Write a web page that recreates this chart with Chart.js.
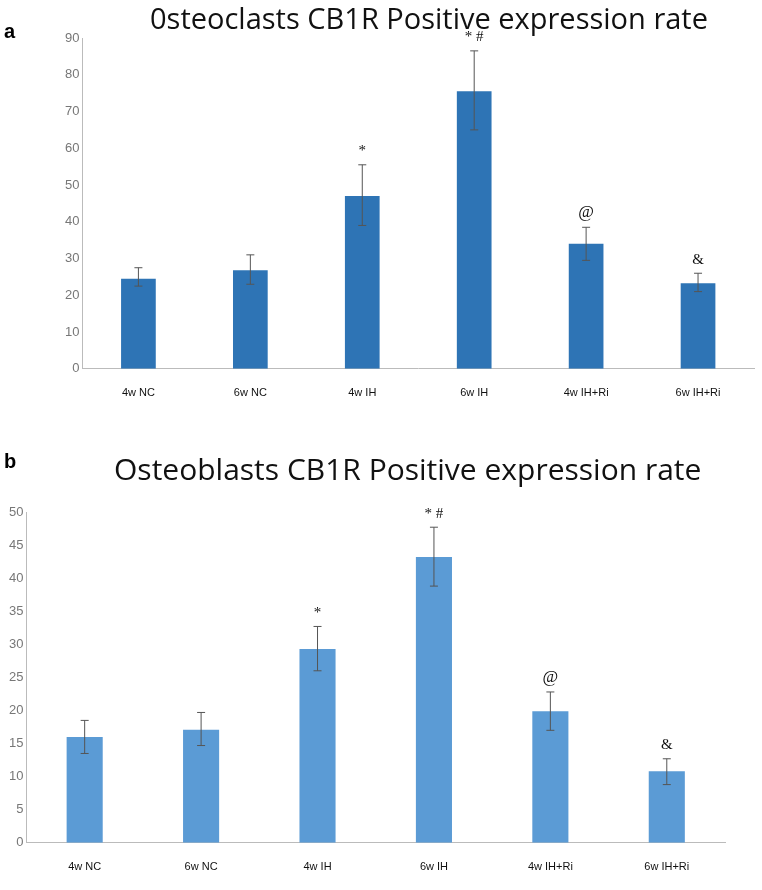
<!DOCTYPE html>
<html><head><meta charset="utf-8">
<script src="https://cdn.jsdelivr.net/npm/chart.js@4"></script>
<style>
body{margin:0;background:#fff;width:762px;height:890px;position:relative;font-family:"Open Sans",Calibri,sans-serif;overflow:hidden}
.t{position:absolute;font-size:29px;color:#111;white-space:nowrap}
.l{position:absolute;font-family:"Liberation Sans",Arial,sans-serif;font-weight:bold;font-size:20px}
.c{position:absolute;left:0;width:762px}
</style></head><body>
<div class="c" style="top:0;height:410px"><canvas id="a"></canvas></div>
<div class="c" style="top:440px;height:450px"><canvas id="b"></canvas></div>
<div class="l" style="left:4px;top:20px">a</div>
<div class="t" style="left:150px;top:-2px">0steoclasts CB1R Positive expression rate</div>
<div class="l" style="left:4px;top:450px">b</div>
<div class="t" style="left:114px;top:448px;font-size:30px">Osteoblasts CB1R Positive expression rate</div>
<script>
const categories=["4w NC","6w NC","4w IH","6w IH","4w IH+Ri","6w IH+Ri"];
const marks=["","","*","* #","@","&"];
const valuesA=[24.5,26.8,47,75.5,34,23.3];
const errLowA=[22.5,23,39,65,29.5,21];
const errHighA=[27.5,31,55.5,86.5,38.5,26];
const valuesB=[16,17.1,29.3,43.2,19.9,10.8];
const errLowB=[13.5,14.7,26,38.8,17,8.8];
const errHighB=[18.5,19.7,32.7,47.7,22.8,12.7];

function errPlugin(lo,hi){return{id:'err',afterDatasetsDraw(ch){
 const c=ch.ctx,x=ch.scales.x,y=ch.scales.y;
 c.save();c.strokeStyle='#555';c.lineWidth=1;
 categories.forEach((k,i)=>{const px=x.getPixelForValue(i),a=y.getPixelForValue(lo[i]),b=y.getPixelForValue(hi[i]);
  c.beginPath();c.moveTo(px,a);c.lineTo(px,b);c.moveTo(px-4,a);c.lineTo(px+4,a);c.moveTo(px-4,b);c.lineTo(px+4,b);c.stroke();
  if(marks[i]){c.fillStyle='#111';c.font=(marks[i]=='@'?'17px':'15px')+' "Liberation Serif",serif';c.textAlign='center';c.textBaseline='bottom';c.fillText(marks[i],px,b-6);}
 });c.restore();}};}

function make(id,vals,lo,hi,color,max,step,pad){
 new Chart(document.getElementById(id),{type:'bar',
 data:{labels:categories,datasets:[{data:vals,backgroundColor:color,barPercentage:0.31,categoryPercentage:1}]},
 options:{responsive:true,maintainAspectRatio:false,animation:false,layout:{padding:pad},
  plugins:{legend:{display:false},tooltip:{enabled:false}},
  scales:{x:{grid:{display:false},border:{color:'#bbb'},ticks:{color:'#111',font:{size:11,family:'"Liberation Sans",Arial'},padding:10}},
   y:{min:0,max:max,ticks:{stepSize:step,color:'#777',font:{size:13,family:'"Liberation Sans",Arial'}},grid:{display:false,drawTicks:false},border:{color:'#bbb'}}}},
 plugins:[errPlugin(lo,hi)]});
}
make('a',valuesA,errLowA,errHighA,'#2e74b5',90,10,{left:62,top:38,right:8,bottom:0});
make('b',valuesB,errLowB,errHighB,'#5b9bd5',50,5,{left:6,top:72,right:37,bottom:6});
</script></body></html>
